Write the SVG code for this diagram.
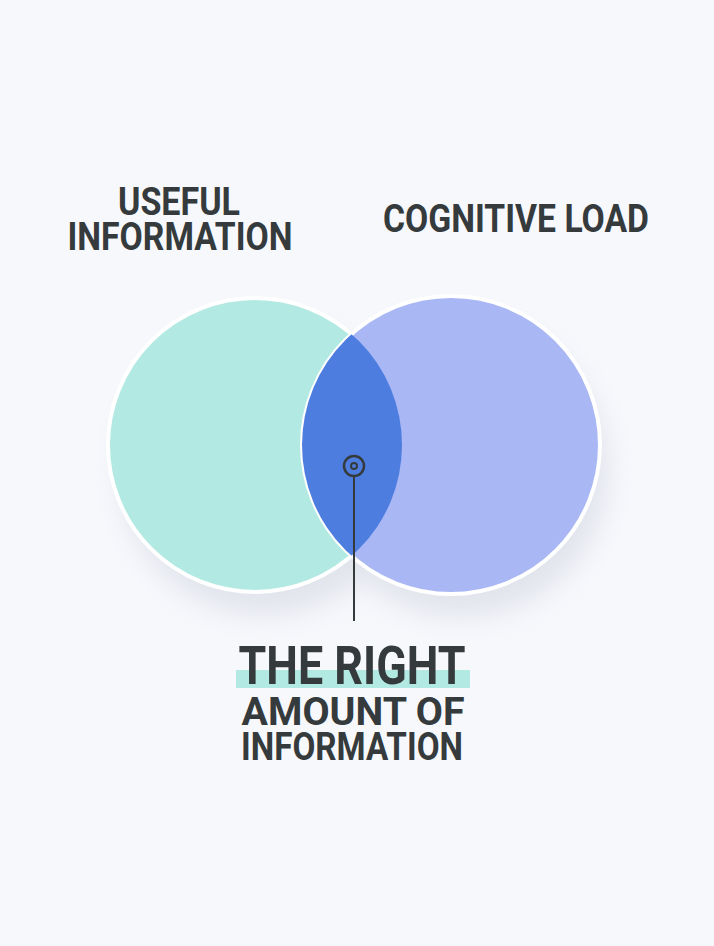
<svg xmlns="http://www.w3.org/2000/svg" width="714" height="946" viewBox="0 0 714 946">
<style>
text{font-family:Roboto,"Liberation Sans",sans-serif;font-weight:700;fill:#353b3c;text-anchor:middle}
.s{font-size:38px}
</style>
<defs>
<filter id="sh" x="-30%" y="-30%" width="160%" height="170%"><feGaussianBlur stdDeviation="14"/></filter>
<clipPath id="cl"><circle cx="255" cy="445" r="147"/></clipPath>
</defs>
<rect width="714" height="946" fill="#f7f8fc"/>
<g id="shadow" opacity="0.35" filter="url(#sh)"><circle cx="265" cy="470" r="145" fill="#b9bfcf"/><circle cx="461" cy="470" r="147" fill="#b9bfcf"/></g>
<g id="left"><circle cx="255" cy="445" r="147" fill="#b2eae3" stroke="#fff" stroke-width="4"/></g>
<g id="right"><circle cx="451" cy="445" r="149" fill="#a9b8f5" stroke="#fff" stroke-width="4"/></g>
<g id="overlap"><circle cx="451" cy="445" r="149" fill="#4e7de0" clip-path="url(#cl)"/></g>
<g id="connectors"><line x1="354" y1="476" x2="354" y2="621" stroke="#353b3c" stroke-width="2"/></g>
<g id="marker"><circle cx="354" cy="466" r="10" fill="none" stroke="#353b3c" stroke-width="2.5"/><circle cx="354" cy="466" r="3" fill="none" stroke="#353b3c" stroke-width="2"/></g>
<g id="label-left"><text class="s" x="179" y="215" textLength="122" lengthAdjust="spacingAndGlyphs">USEFUL</text><text class="s" x="180" y="250" textLength="225" lengthAdjust="spacingAndGlyphs">INFORMATION</text></g>
<g id="label-right"><text class="s" x="516" y="232" textLength="266" lengthAdjust="spacingAndGlyphs">COGNITIVE LOAD</text></g>
<g id="label-bottom">
<rect x="236" y="670" width="234" height="18" fill="#b2eae3"/>
<text x="352" y="684" font-size="53" textLength="227" lengthAdjust="spacingAndGlyphs">THE RIGHT</text>
<text class="s" x="353" y="725" textLength="223" lengthAdjust="spacingAndGlyphs">AMOUNT OF</text>
<text class="s" x="352" y="760" textLength="222" lengthAdjust="spacingAndGlyphs">INFORMATION</text>
</g>
</svg>
